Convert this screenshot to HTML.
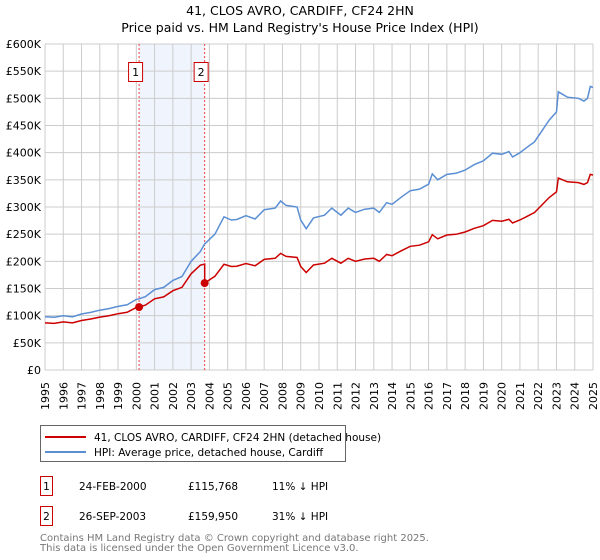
<!DOCTYPE html>
<html><head><meta charset="utf-8"><style>
body{margin:0;background:#fff;}
svg{display:block;font-family:"DejaVu Sans","Liberation Sans",sans-serif;}
</style></head><body>
<svg id="chart" width="600" height="560" viewBox="0 0 600 560" xmlns="http://www.w3.org/2000/svg">
<text x="300" y="15" font-size="12.5" text-anchor="middle" fill="#000">41, CLOS AVRO, CARDIFF, CF24 2HN</text>
<text x="300" y="32" font-size="12.5" text-anchor="middle" fill="#000">Price paid vs. HM Land Registry's House Price Index (HPI)</text>
<g id="grid"></g>
<g id="marks"></g>
<g id="axes"></g>
<g>
<rect x="40.5" y="425.5" width="305" height="36" fill="#fff" stroke="#666"/>
<line x1="45" y1="437" x2="86" y2="437" stroke="#cc0000" stroke-width="2"/>
<text x="94" y="441" font-size="10.5">41, CLOS AVRO, CARDIFF, CF24 2HN (detached house)</text>
<line x1="45" y1="452" x2="86" y2="452" stroke="#5b8fd4" stroke-width="2"/>
<text x="94" y="456" font-size="10.5">HPI: Average price, detached house, Cardiff</text>
</g>
<g font-size="10.5">
<rect x="40.5" y="476.5" width="12" height="19" fill="#fff" stroke="#cc0000"/>
<text x="46.5" y="490" text-anchor="middle">1</text>
<text x="79" y="490">24-FEB-2000</text><text x="188" y="490">£115,768</text><text x="272" y="490">11% ↓ HPI</text>
<rect x="40.5" y="506.5" width="12" height="19" fill="#fff" stroke="#cc0000"/>
<text x="46.5" y="520" text-anchor="middle">2</text>
<text x="79" y="520">26-SEP-2003</text><text x="188" y="520">£159,950</text><text x="272" y="520">31% ↓ HPI</text>
</g>
<text x="40" y="541" font-size="10" fill="#777">Contains HM Land Registry data © Crown copyright and database right 2025.</text>
<text x="40" y="551" font-size="10" fill="#777">This data is licensed under the Open Government Licence v3.0.</text>
</svg>
<script>
const years=[1995,1996,1997,1998,1999,2000,2001,2002,2003,2004,2005,2006,2007,2008,2009,2010,2011,2012,2013,2014,2015,2016,2017,2018,2019,2020,2021,2022,2023,2024,2025];
const yTicks=[0,50000,100000,150000,200000,250000,300000,350000,400000,450000,500000,550000,600000];
const yTickLabels=["£0","£50K","£100K","£150K","£200K","£250K","£300K","£350K","£400K","£450K","£500K","£550K","£600K"];
const hpiT=[1995,1995.5,1996,1996.5,1997,1997.5,1998,1998.5,1999,1999.5,2000,2000.15,2000.5,2001,2001.5,2002,2002.5,2003,2003.5,2003.74,2004.3,2004.8,2005.2,2005.5,2006,2006.5,2007,2007.6,2007.9,2008.2,2008.8,2009.0,2009.3,2009.7,2010.3,2010.7,2011.2,2011.6,2012,2012.5,2013,2013.3,2013.7,2014,2014.5,2015,2015.5,2016,2016.2,2016.5,2017,2017.5,2018,2018.5,2019,2019.5,2020,2020.4,2020.6,2021,2021.4,2021.8,2022.2,2022.6,2023,2023.1,2023.6,2024.2,2024.5,2024.7,2024.85,2025];
const hpiV=[98000,97000,100000,98000,103000,106000,110000,113000,117000,120000,130000,131000,135000,148000,152000,165000,172000,200000,218000,232000,250000,282000,276000,277000,284000,278000,295000,298000,311000,303000,300000,276000,260000,280000,285000,298000,285000,298000,290000,296000,298000,290000,308000,305000,318000,330000,333000,342000,361000,350000,360000,362000,368000,378000,385000,399000,397000,402000,392000,400000,410000,420000,440000,460000,475000,512000,502000,500000,495000,500000,522000,520000];
const saleT=[2000.15,2003.74];
const saleV=[115768,159950];
const saleRatio=[0.885,0.69];

const X0=45,X1=593,Y0=370,Y1=44;
const x=t=>X0+(t-1995)/(2025-1995)*(X1-X0);
const y=v=>Y0-v/600000*(Y0-Y1);
const NS="http://www.w3.org/2000/svg";
function mk(p,tag,a){const e=document.createElementNS(NS,tag);for(const k in a)e.setAttribute(k,a[k]);p.appendChild(e);return e;}
const grid=document.getElementById('grid'),marks=document.getElementById('marks'),axes=document.getElementById('axes');
const sh=mk(grid,'rect',{x:x(saleT[0]),y:Y1,width:x(saleT[1])-x(saleT[0]),height:Y0-Y1,fill:'#f0f4fd'});


years.forEach(yr=>{
 const l=mk(grid,'line',{x1:x(yr),x2:x(yr),y1:Y1,y2:Y0,stroke:'#cccccc'});
 
 
 const t=mk(axes,'text',{x:0,y:0,'font-size':11,transform:`translate(${x(yr)+4},${Y0+12}) rotate(-90)`,'text-anchor':'end'});
 t.textContent=yr;
 
 
});
yTicks.forEach((v,i)=>{
 const l=mk(grid,'line',{x1:X0,x2:X1,y1:y(v),y2:y(v),stroke:'#cccccc'});
 
 
 const t=mk(axes,'text',{x:X0-4,y:y(v)+4,'font-size':11,'text-anchor':'end'});
 t.textContent=yTickLabels[i];
 
 
});
saleT.forEach((t,i)=>{
 const l=mk(marks,'line',{x1:x(t),x2:x(t),y1:Y1,y2:Y0,stroke:'#ee4444','stroke-dasharray':'2,2'});
 
 
 const r=mk(marks,'rect',{x:x(t)-10.5,y:62.5,width:14,height:19,fill:'#fff',stroke:'#cc0000'});
 
 
 const tx=mk(marks,'text',{x:x(t)-3.5,y:76,'font-size':11,'text-anchor':'middle'});
 tx.textContent=i+1;
 
 
});
const hp=mk(marks,'path',{d:hpiT.map((t,i)=>(i?'L':'M')+x(t).toFixed(1)+','+y(hpiV[i]).toFixed(1)).join(''),fill:'none',stroke:'#5b8fd4','stroke-width':1.5});


let d='';
hpiT.forEach((t,i)=>{
 const r=t<saleT[1]?saleRatio[0]:saleRatio[1];
 if(t===saleT[1]) d+='L'+x(t).toFixed(1)+','+y(hpiV[i-1]*saleRatio[0]*1.01).toFixed(1);
 d+=(i?'L':'M')+x(t).toFixed(1)+','+y(hpiV[i]*r).toFixed(1);
});
const pp=mk(marks,'path',{d:d,fill:'none',stroke:'#cc0000','stroke-width':1.5});


saleT.forEach((t,i)=>{
 const c=mk(marks,'circle',{cx:x(t),cy:y(saleV[i]),r:4,fill:'#cc0000'});
 
 
});
</script>
</body></html>
